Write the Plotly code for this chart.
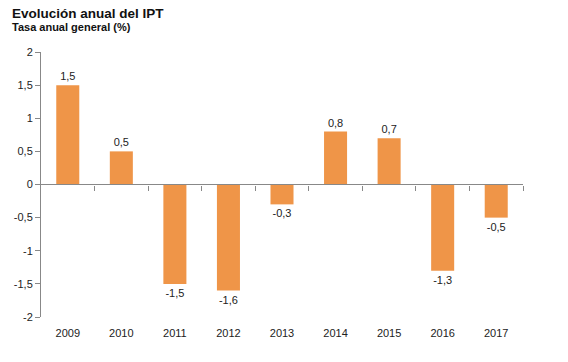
import plotly.graph_objects as go

years = ["2009", "2010", "2011", "2012", "2013", "2014", "2015", "2016", "2017"]
values = [1.5, 0.5, -1.5, -1.6, -0.3, 0.8, 0.7, -1.3, -0.5]
labels = [f"{v:.1f}".replace(".", ",") for v in values]
yticks = [2, 1.5, 1, 0.5, 0, -0.5, -1, -1.5, -2]

W, H = 568, 362
L, R, T, B = 41, 45, 52, 45
pw = W - L - R
ph = H - T - B

fig = go.Figure()
fig.add_trace(go.Bar(
    x=years, y=values, text=labels, textposition="outside",
    marker=dict(color="#EF9548", line=dict(width=0)),
    width=0.43, cliponaxis=False,
    textfont=dict(size=11, color="#222", family="Liberation Sans, Arial"),
))
fig.add_trace(go.Scatter(x=[-0.5, 8.5], y=[0, 0], xaxis="x2", mode="lines",
                         line=dict(color="#888", width=1), hoverinfo="skip", showlegend=False))

fig.update_layout(
    width=W, height=H,
    margin=dict(l=L, r=R, t=T, b=B),
    plot_bgcolor="white", paper_bgcolor="white",
    separators=",.",
    showlegend=False,
    font=dict(family="Liberation Sans, Arial", size=11, color="#222"),
    xaxis=dict(type="category", range=[-0.5, 8.5], showline=False, ticks="",
               showgrid=False, zeroline=False, tickfont=dict(size=11, color="#222"),
               ticklabelstandoff=8),
    xaxis2=dict(overlaying="x", anchor="free", position=0.5, range=[-0.5, 8.5],
                showline=False, ticks="outside", ticklen=5, tickcolor="#888",
                tickvals=[0.5, 1.5, 2.5, 3.5, 4.5, 5.5, 6.5, 7.5, 8.5], showticklabels=False,
                showgrid=False, zeroline=False),
    yaxis=dict(range=[-2, 2], tickvals=yticks, ticktext=[f"{t:g}".replace(".", ",") for t in yticks],
               showline=True, linecolor="#888", linewidth=1, ticks="outside", ticklen=5,
               tickcolor="#888", showgrid=False, zeroline=False,
               tickfont=dict(size=11, color="#222")),
    annotations=[
        dict(text="<b>Evolución anual del IPT</b>", x=(10 - L) / pw, y=1 - (13 - T) / ph,
             xref="paper", yref="paper", showarrow=False, font=dict(size=13.5, color="#111"),
             xanchor="left", yanchor="middle"),
        dict(text="<b>Tasa anual general (%)</b>", x=(10 - L) / pw, y=1 - (27 - T) / ph,
             xref="paper", yref="paper", showarrow=False, font=dict(size=11, color="#111"),
             xanchor="left", yanchor="middle"),
    ],
)

fig.write_html("out.html", config={"displayModeBar": False},
               post_script="document.body.style.margin='0';")
